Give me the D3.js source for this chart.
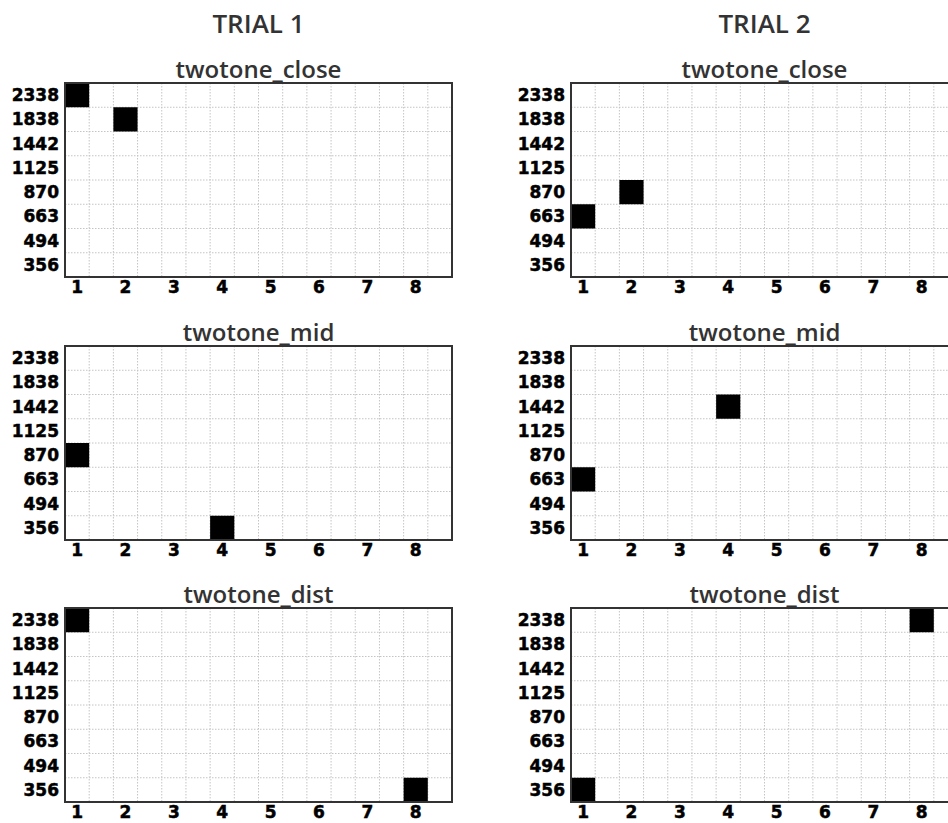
<!DOCTYPE html>
<html>
<head>
<meta charset="utf-8">
<script src="https://cdn.jsdelivr.net/npm/d3@7"></script>
<style>
  body { margin: 0; background: #fff; }
  svg { display: block; }
</style>
</head>
<body>
<div id="chart"></div>
<script>
// frequency rows, top to bottom
const freqs = ['2338', '1838', '1442', '1125', '870', '663', '494', '356'];
// position ticks 1..8, each spanning two grid columns
const positions = [1, 2, 3, 4, 5, 6, 7, 8];
const trials = ['TRIAL 1', 'TRIAL 2'];
const conditions = ['twotone_close', 'twotone_mid', 'twotone_dist'];

// marked cells: [position, frequency]
const trial1Close = [[1, '2338'], [2, '1838']];
const trial1Mid = [[1, '870'], [4, '356']];
const trial1Dist = [[1, '2338'], [8, '356']];
const trial2Close = [[1, '663'], [2, '870']];
const trial2Mid = [[1, '663'], [4, '1442']];
const trial2Dist = [[8, '2338'], [1, '356']];

const cells = [
  [trial1Close, trial1Mid, trial1Dist],
  [trial2Close, trial2Mid, trial2Dist],
];

const width = 948;
const height = 823;
const plotW = 387;
const plotH = 194;
const plotLeft = [65, 571];
const plotTop = [83, 346, 608];

const svg = d3.select('#chart')
  .append('svg')
  .attr('width', width)
  .attr('height', height);

const cols = d3.range(16);
const x = d3.scaleBand().domain(cols).range([0, plotW]);
const y = d3.scaleBand().domain(freqs).range([0, plotH]);

const labelFont = 'bold 17px "DejaVu Sans", sans-serif';

trials.forEach((trial, t) => {
  svg.append('text')
    .attr('x', plotLeft[t] + plotW / 2)
    .attr('y', 33)
    .attr('text-anchor', 'middle')
    .attr('fill', '#333')
    .style('font', '600 26px "Open Sans", sans-serif')
    .text(trial);

  conditions.forEach((cond, c) => {
    const g = svg.append('g')
      .attr('transform', `translate(${plotLeft[t]},${plotTop[c]})`);

    g.append('rect')
      .attr('width', plotW)
      .attr('height', plotH)
      .attr('fill', '#fff');

    // dotted grid
    g.append('g')
      .selectAll('line')
      .data(cols.slice(1))
      .join('line')
      .attr('x1', (d) => x(d))
      .attr('x2', (d) => x(d))
      .attr('y1', 0)
      .attr('y2', plotH)
      .attr('stroke', '#c4c4c4')
      .attr('stroke-dasharray', '1.5,1.5');

    g.append('g')
      .selectAll('line')
      .data(freqs.slice(1))
      .join('line')
      .attr('x1', 0)
      .attr('x2', plotW)
      .attr('y1', (d) => y(d))
      .attr('y2', (d) => y(d))
      .attr('stroke', '#c4c4c4')
      .attr('stroke-dasharray', '1.5,1.5');

    // filled cells
    g.append('g')
      .selectAll('rect')
      .data(cells[t][c])
      .join('rect')
      .attr('x', (d) => x((d[0] - 1) * 2))
      .attr('y', (d) => y(d[1]))
      .attr('width', x.bandwidth())
      .attr('height', y.bandwidth())
      .attr('fill', '#000');

    g.append('rect')
      .attr('width', plotW)
      .attr('height', plotH)
      .attr('fill', 'none')
      .attr('stroke', '#333')
      .attr('stroke-width', 2);

    // y labels
    g.append('g')
      .selectAll('text')
      .data(freqs)
      .join('text')
      .attr('x', -6)
      .attr('y', (d) => y(d) + y.bandwidth() / 2)
      .attr('dy', '0.36em')
      .attr('text-anchor', 'end')
      .attr('stroke', '#000')
      .attr('stroke-width', 0.5)
      .style('font', labelFont)
      .text((d) => d);

    // x labels
    g.append('g')
      .selectAll('text')
      .data(positions)
      .join('text')
      .attr('x', (d) => x((d - 1) * 2) + x.bandwidth() / 2)
      .attr('y', plotH + 16)
      .attr('text-anchor', 'middle')
      .attr('stroke', '#000')
      .attr('stroke-width', 0.5)
      .style('font', labelFont)
      .text((d) => d);

    g.append('text')
      .attr('x', plotW / 2)
      .attr('y', -5)
      .attr('text-anchor', 'middle')
      .attr('fill', '#333')
      .style('font', '600 24px "Open Sans", sans-serif')
      .text(cond);
  });
});
</script>
</body>
</html>
